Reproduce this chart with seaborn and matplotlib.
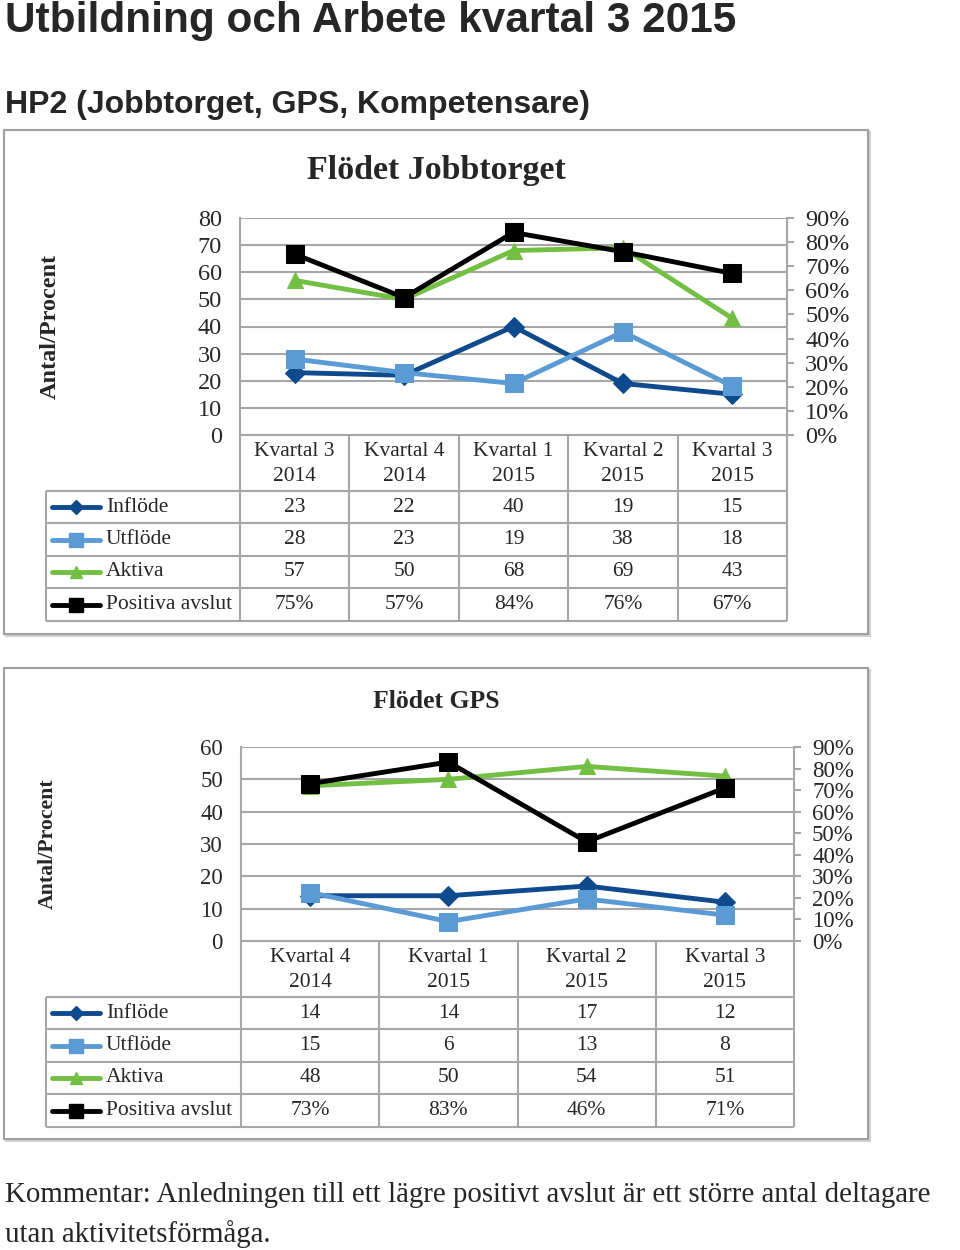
import numpy as np
import pandas as pd
import matplotlib.pyplot as plt
import seaborn as sns
from matplotlib.patches import Rectangle
from matplotlib.lines import Line2D

serier = ['Inflöde', 'Utflöde', 'Aktiva', 'Positiva avslut']

kv_jobb = ['Kvartal 3\n2014', 'Kvartal 4\n2014', 'Kvartal 1\n2015', 'Kvartal 2\n2015', 'Kvartal 3\n2015']
jobb_inflode = [23, 22, 40, 19, 15]
jobb_utflode = [28, 23, 19, 38, 18]
jobb_aktiva = [57, 50, 68, 69, 43]
jobb_positiva = [0.75, 0.57, 0.84, 0.76, 0.67]

kv_gps = ['Kvartal 4\n2014', 'Kvartal 1\n2015', 'Kvartal 2\n2015', 'Kvartal 3\n2015']
gps_inflode = [14, 14, 17, 12]
gps_utflode = [15, 6, 13, 8]
gps_aktiva = [48, 50, 54, 51]
gps_positiva = [0.73, 0.83, 0.46, 0.71]

farger = {'Inflöde': '#0F4A8E', 'Utflöde': '#5B9BD5', 'Aktiva': '#72BF44', 'Positiva avslut': '#000000'}
markorer = {'Inflöde': 'D', 'Utflöde': 's', 'Aktiva': '^', 'Positiva avslut': 's'}
msize = {'Inflöde': 10, 'Utflöde': 12.5, 'Aktiva': 12, 'Positiva avslut': 12.5}
GRID = '#A6A6A6'
SERIF = 'Liberation Serif'
SANS = ['Liberation Sans Narrow', 'Liberation Sans']

sns.set_style('white')
plt.rcParams['font.family'] = [SERIF, 'DejaVu Serif']

W, H = 960, 1250
fig = plt.figure(figsize=(W / 100, H / 100), dpi=100)

ov = fig.add_axes([0, 0, 1, 1], zorder=-1)
ov.set_xlim(0, W)
ov.set_ylim(H, 0)
ov.axis('off')


def px_axes(x0, y0, x1, y1):
    return fig.add_axes([x0 / W, 1 - y1 / H, (x1 - x0) / W, (y1 - y0) / H])


def hline(x0, x1, y):
    ov.plot([x0, x1], [y, y], color=GRID, lw=1.5, solid_capstyle='butt')


def vline(x, y0, y1):
    ov.plot([x, x], [y0, y1], color=GRID, lw=1.5, solid_capstyle='butt')


def rita(box, plot, title, title_y, title_fs, ylab_x, kv, counts, positiva,
         ymax, head_bottom, row_bottoms, fs_tick, fs_tab, fs_ylab):
    bx0, by0, bx1, by1 = box
    ov.add_patch(Rectangle((bx0 + 2, by0 + 2), bx1 - bx0, by1 - by0, fill=False,
                           edgecolor='#D0D0D0', lw=1.5))
    ov.add_patch(Rectangle((bx0, by0), bx1 - bx0, by1 - by0, facecolor='white',
                           edgecolor='#A0A0A0', lw=1.5))
    ov.text((bx0 + bx1) / 2, title_y, title, ha='center', va='center',
            fontsize=title_fs, fontweight='bold')

    x0, y0, x1, y1 = plot
    ax = px_axes(x0, y0, x1, y1)
    n = len(kv)
    xs = list(range(n))
    df = pd.DataFrame({'x': xs * 3,
                       'serie': np.repeat(serier[:3], n),
                       'varde': counts[0] + counts[1] + counts[2]})
    for s in serier[:3]:
        sns.lineplot(data=df[df['serie'] == s], x='x', y='varde', ax=ax,
                     color=farger[s], marker=markorer[s], markersize=msize[s],
                     markeredgecolor=farger[s], linewidth=3.5, zorder=3)
    ax.set_xlim(-0.5, n - 0.5)
    ax.set_ylim(0, ymax)
    ax.set_yticks(range(0, ymax + 1, 10))
    ax.set_xticks([])
    ax.grid(axis='y', color=GRID, lw=1.5)
    ax.set_axisbelow(True)
    ax.set_xlabel('')
    ax.set_ylabel('')
    for sp in ax.spines.values():
        sp.set_visible(False)
    ax.spines['left'].set_visible(True)
    ax.spines['left'].set_color(GRID)
    ax.spines['left'].set_linewidth(1.5)
    ax.tick_params(axis='y', length=0, pad=13, labelsize=fs_tick)

    ax2 = ax.twinx()
    sns.lineplot(x=xs, y=positiva, ax=ax2, color=farger['Positiva avslut'],
                 marker='s', markersize=msize['Positiva avslut'],
                 markeredgecolor='black', linewidth=3.5, zorder=4)
    ax2.set_ylim(0, 0.9)
    ax2.set_yticks(np.arange(0, 0.91, 0.1))
    ax2.set_yticklabels([f'{int(round(t * 100))}%' for t in np.arange(0, 0.91, 0.1)])
    ax2.set_xlim(-0.5, n - 0.5)
    ax2.set_ylabel('')
    ax2.grid(False)
    for sp in ax2.spines.values():
        sp.set_visible(False)
    ax2.spines['right'].set_visible(True)
    ax2.spines['right'].set_color(GRID)
    ax2.spines['right'].set_linewidth(1.5)
    ax2.tick_params(axis='y', direction='out', length=5, width=1.5, color=GRID,
                    pad=8, labelsize=fs_tick)

    ov.text(ylab_x, (y0 + y1) / 2, 'Antal/Procent', rotation=90, ha='center',
            va='center', fontsize=fs_ylab, fontweight='bold')

    # data table
    tl = 46
    cw = (x1 - x0) / n
    hline(x0, x1, y1)
    for i in range(n + 1):
        vline(x0 + i * cw, y1, row_bottoms[-1])
    for i, k in enumerate(kv):
        ov.text(x0 + (i + 0.5) * cw, (y1 + head_bottom) / 2 + 1, k, ha='center',
                va='center', fontsize=fs_tab, linespacing=1.45)
    hline(tl, x1, head_bottom)
    vline(tl, head_bottom, row_bottoms[-1])
    tops = [head_bottom] + row_bottoms[:-1]
    varden = counts + [[f'{int(round(v * 100))}%' for v in positiva]]
    for r, s in enumerate(serier):
        hline(tl, x1, row_bottoms[r])
        yc = (tops[r] + row_bottoms[r]) / 2
        ov.add_line(Line2D([52, 100], [yc, yc], color=farger[s], lw=3.5))
        ov.add_line(Line2D([76], [yc], color=farger[s], marker=markorer[s],
                           markersize=msize[s] * 0.75, markeredgecolor=farger[s]))
        ov.text(106, yc, s, ha='left', va='center', fontsize=fs_tab)
        for i, v in enumerate(varden[r]):
            ov.text(x0 + (i + 0.5) * cw, yc, str(v), ha='center', va='center',
                    fontsize=fs_tab)


rita((4, 130, 868, 634), (240, 218, 787, 435), 'Flödet Jobbtorget', 170, 24.5, 50,
     kv_jobb, [jobb_inflode, jobb_utflode, jobb_aktiva], jobb_positiva, 80,
     491, [523, 556, 588, 621], 17.5, 15.5, 17.5)

rita((4, 668, 868, 1139), (241, 747, 794, 941), 'Flödet GPS', 702, 18.5, 48,
     kv_gps, [gps_inflode, gps_utflode, gps_aktiva], gps_positiva, 60,
     997, [1029, 1062, 1094, 1127], 16.5, 15.5, 15.7)

ov.text(5, 32, 'Utbildning och Arbete kvartal 3 2015', ha='left', va='baseline',
        fontsize=30.5, fontweight='bold', family=SANS)
ov.text(5, 113, 'HP2 (Jobbtorget, GPS, Kompetensare)', ha='left', va='baseline',
        fontsize=23, fontweight='bold', family=SANS)
ov.text(5, 1195, 'Kommentar: Anledningen till ett lägre positivt avslut är ett större antal deltagare',
        ha='left', va='center', fontsize=20.8)
ov.text(5, 1234, 'utan aktivitetsförmåga.', ha='left', va='center', fontsize=20.8)

fig.savefig('out.png', dpi=100)
